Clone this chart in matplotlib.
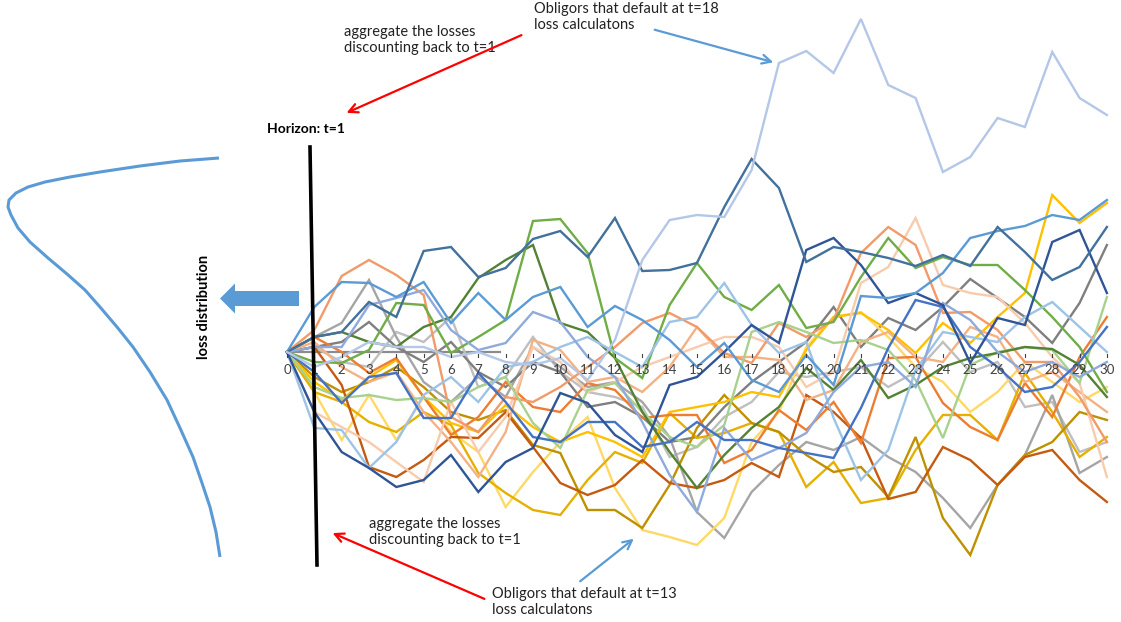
import numpy as np
import matplotlib.pyplot as plt
from matplotlib.patches import FancyArrow

plt.rcParams['font.family'] = ['Lato', 'DejaVu Sans']

# time steps 0..30
t = list(range(31))

# simulated credit paths
pale_blue = [0, -1.5, -0.5, 1, 0.5, 0.5, -0.5, 0, -1, -1.3, -0.6, -2.8, 1.2, 9.2, 13.2, 13.7, 13.5, 18.2,
             28.9, 30.1, 27.9, 33.3, 26.7, 25.4, 18.0, 19.5, 23.4, 22.5, 30.0, 25.4, 23.7]
steel_blue = [0, 1.5, 2.0, 5.0, 3.5, 10.1, 10.5, 7.5, 8.4, 11.3, 12.1, 9.5, 13.4, 8.1, 8.2, 8.9, 14.5, 19.3,
              16.4, 9.0, 10.5, 10.0, 9.4, 8.6, 9.7, 8.6, 12.5, 10.0, 7.2, 8.5, 12.5]
blue = [0, 4.5, 7.0, 6.9, 5.5, 7.0, 2.9, 5.9, 3.2, 5.5, 6.5, 2.5, 4.6, 3.2, 1.2, -1.5, 0.9, -2.8,
        -4.0, -0.3, -3.3, 5.6, 5.4, 5.9, 7.9, 11.4, 12.1, 12.6, 13.7, 13.2, 15.2]
orange_light = [0, 2.2, 7.6, 9.2, 7.7, 5.7, -6.5, -8.0, -4.5, -5.0, -3.5, -1.5, 0.5, 2.9, 3.9, 2.5, -0.1, -1.1,
                2.9, 1.5, 3.2, 9.9, 12.5, 10.7, 3.9, 4.0, 2.2, -1.0, -1.0, -4.5, -9.0]
pink = [0, -6.0, -7.5, -9.0, -11.0, -13.0, -5.0, -10.0, -6.5, 0.5, -1.0, -4.0, -3.0, -1.5, -0.5, 0.5, 1.5, 1.5,
        0.5, -3.5, -2.0, 6.9, 8.5, 13.4, 6.7, 5.9, 5.5, 2.9, -0.5, -3.1, -12.5]
green = [0, -1.0, -1.1, 0.2, 4.9, 4.7, -0.1, 1.5, 3.2, 13.1, 13.3, 9.9, -0.6, -2.6, 4.7, 8.9, 5.5, 4.2,
         6.7, 2.4, 3.0, 7.5, 11.4, 8.4, 9.5, 8.7, 8.7, 6.2, 3.5, 0.5, -4.0]
dark_green = [0, 1.5, 2.0, 1.0, 0.5, 2.5, 3.5, 7.4, 9.2, 10.7, 2.9, 2.0, -0.6, -6.0, -10.0, -13.6, -10.3, -7.6,
              -5.5, -1.6, -3.8, -0.8, -4.6, -3.3, -1.5, -0.6, -0.1, 0.5, 0.3, -1.3, -4.5]
light_green = [0, -3.5, -4.6, -4.3, -4.8, -4.6, -5.0, -3.5, -2.5, -7.1, -9.6, -3.8, -3.1, -6.0, -8.5, -9.5, -7.3, 2.0,
               3.0, 2.0, 0.9, 1.2, 0.2, -2.8, -8.6, -1.3, 0.0, 0.5, 0.2, -3.1, 5.5]
navy = [0, -6.0, -10.0, -11.6, -13.5, -12.8, -10.3, -14.0, -11.0, -9.6, -4.1, -5.1, -8.3, -10.0, -3.3, -2.5, 0.0, 2.7,
        0.9, 10.2, 11.4, 8.7, 4.9, 5.9, 4.7, -1.1, 3.4, 2.7, 11.0, 12.2, 5.9]
royal_blue = [0, -2.0, -5.1, -2.5, -2.1, -6.6, -6.6, -2.1, -5.0, -8.5, -9.0, -7.0, -7.0, -9.5, -9.0, -7.0, -8.8, -8.8,
              -9.6, -10.1, -10.6, -5.6, 0.4, 5.2, 4.5, 0.5, -1.5, -4.0, -3.5, -1.0, 2.5]
gray = [0, 1.5, 2.9, 7.2, 1.5, -3.0, -5.0, -2.5, -4.5, 0.5, -1.5, -3.5, -3.0, -5.0, -8.5, -16.0, -18.6, -14.0,
        -11.3, -9.0, -9.8, -8.5, -10.5, -12.0, -14.6, -17.6, -13.3, -10.3, -4.3, -12.1, -10.5]
dark_gray = [0, 0.5, 1.0, 3.0, 0.5, -1.0, 1.0, -2.0, -3.5, -1.0, -2.0, -5.5, -5.0, -6.5, -9.0, -8.5, -5.5, -3.0,
             -1.0, 1.0, 4.5, 0.5, 3.4, 2.2, 4.5, 7.3, 5.4, 3.5, 0.9, 4.9, 10.7]
gold_light = [0, -3.0, -4.8, -2.5, -0.8, -4.5, -7.1, -8.0, -5.3, -7.5, -9.0, -8.0, -9.0, -10.5, -6.0, -5.5, -5.0, -4.0,
              -4.5, 0.2, 3.5, 3.9, 2.2, -0.1, 2.9, 0.9, 3.5, 5.9, 15.7, 12.9, 14.9]
dark_gold = [0, -2.5, -4.0, -3.0, -1.5, -3.5, -6.0, -6.8, -5.8, -9.3, -10.1, -15.8, -15.8, -17.6, -13.3, -7.6, -4.3,
             -7.1, -8.0, -10.3, -12.0, -11.5, -14.5, -8.5, -16.6, -20.3, -13.3, -10.3, -9.0, -6.0, -6.8]
gold = [0, -4.0, -5.0, -7.0, -8.0, -6.0, -7.3, -12.1, -14.1, -15.8, -16.3, -12.8, -10.0, -11.1, -6.1, -8.6, -8.1, -7.1,
        -8.0, -13.5, -11.0, -15.1, -14.6, -9.8, -6.3, -6.3, -8.8, -2.1, -6.0, -10.5, -8.5]
pale_gold = [0, -4.0, -8.8, -4.3, -8.8, -4.5, -8.0, -10.0, -15.5, -12.0, -9.0, -6.5, -13.6, -17.8, -18.5, -19.3, -16.6,
             -9.0, -6.0, 0.5, 3.5, 4.0, 1.5, -1.5, -3.0, -6.0, -4.0, -1.0, -3.0, -5.0, -3.5]
brown = [0, 0.5, -3.3, -11.5, -12.5, -10.8, -8.5, -8.6, -6.0, -9.5, -13.1, -14.3, -13.3, -10.8, -13.1, -13.6, -12.8,
         -11.1, -12.5, -4.3, -6.0, -8.6, -14.7, -14.0, -9.5, -10.8, -13.3, -10.5, -9.8, -12.8, -15.0]
orange = [0, 1.5, 0.0, -2.1, -0.6, -4.5, -8.3, -6.5, -3.0, -5.5, -6.0, -3.1, -3.8, -6.6, -6.3, -6.3, -11.1, -9.8,
          -5.8, -7.8, -5.0, -9.1, -0.6, -0.5, -5.1, -7.5, -8.8, -3.1, -6.5, -0.5, 3.5]
periwinkle = [0, 0.5, 0.5, 4.7, 5.4, 6.2, 2.2, 0.2, 0.9, 4.0, 3.0, -0.5, -2.5, -7.0, -12.3, -16.0, -7.6, -10.8,
              -9.6, -8.1, -4.0, -1.5, -1.0, -3.5, 4.9, 3.2, 0.0, -2.0, -1.0, -2.5, -1.0]
sky = [0, -7.6, -7.8, -11.6, -9.0, -4.3, -2.5, -5.0, -1.5, -1.0, 0.5, 1.5, 0.0, -1.5, 3.0, 3.5, 6.9, 2.7,
       -0.1, 1.0, -6.6, -12.8, -9.8, -1.8, 2.0, 1.5, 1.0, 3.5, 5.0, 2.5, 0.0]
salmon = [0, 1.0, -1.5, -3.0, -2.0, -6.0, -9.0, -12.5, -8.0, 1.2, 0.2, -3.0, -2.5, -4.0, -1.5, 2.5, -0.5, -0.5,
          -0.8, -4.8, -3.8, 1.0, 2.0, -0.5, -1.0, 2.5, 1.5, -3.0, -2.0, -4.0, -6.0]
silver = [0, 0.5, -1.0, -1.5, 2.0, 1.0, 3.5, -3.5, -2.5, 1.5, -2.0, -4.0, -4.5, -5.5, -10.5, -9.5, -6.5, -5.0,
          -2.0, -2.5, -2.0, -1.5, -3.5, -2.0, 1.0, -2.0, -1.0, -5.5, -5.0, -10.0, -9.0]

paths = [silver, gray, dark_gray, pale_gold, gold, dark_gold, gold_light, brown, orange, salmon, pink,
         orange_light, light_green, dark_green, green, sky, periwinkle, royal_blue, navy, blue, steel_blue, pale_blue]
colors = ['#BFBFBF', '#A5A5A5', '#7F7F7F', '#FFD966', '#E6B000', '#BF9000', '#FFC000', '#C55A11', '#ED7D31',
          '#F4B183', '#F8CBAD', '#F19A6A', '#A9D18E', '#548235', '#70AD47', '#9DC3E6', '#8FAADC', '#4472C4',
          '#2F5597', '#5B9BD5', '#41719C', '#B4C7E7']

# loss distribution sketch (pixel positions)
curve_x = [219, 180, 140, 100, 70, 45, 28, 16, 9, 8, 11, 18, 30, 48, 67, 85, 100, 117, 133, 150, 167, 180, 193,
           202, 210, 216, 220]
curve_y = [158, 161, 166, 172, 177, 182, 187, 193, 200, 207, 215, 228, 242, 258, 274, 290, 307, 327, 347, 372,
           400, 428, 457, 483, 507, 532, 557]

W, H = 1121, 622
x0, sx = 287, 27.33   # pixel of t=0, pixels per step
y0, sy = 352, 10.0    # pixel of zero line, pixels per unit

fig = plt.figure(figsize=(W / 100, H / 100), dpi=100)
ax = fig.add_axes([0, 0, 1, 1])
ax.set_xlim(-x0 / sx, (W - x0) / sx)
ax.set_ylim(-(H - y0) / sy, y0 / sy)
ax.axis('off')

for p, c in zip(paths, colors):
    ax.plot(t, p, color=c, lw=1.7, solid_joinstyle='miter')

# axis line and tick labels
ax.plot([0, 7.8], [0, 0], color='#8C8C8C', lw=1.6, zorder=1)
for i in t:
    ax.plot([i, i], [-0.15, -0.45], color='#404040', lw=0.8)
    ax.text(i, -1.75, str(i), ha='center', va='center', fontsize=9.5, color='#404040')

# overlay in pixel coordinates for the annotations
ov = fig.add_axes([0, 0, 1, 1])
ov.set_xlim(0, W)
ov.set_ylim(H, 0)
ov.axis('off')
ov.patch.set_alpha(0)

ov.plot(curve_x, curve_y, color='#5B9BD5', lw=2.2, solid_capstyle='butt', solid_joinstyle='round')
ov.plot([310, 317], [147, 565], color='black', lw=2.6)
ov.add_patch(FancyArrow(299, 298.5, -64, 0, width=15, head_width=30, head_length=15,
                        length_includes_head=False, color='#5B9BD5', lw=0))

ov.text(267, 129, 'Horizon: t=1', fontsize=10, fontweight='bold', ha='left', va='center')
ov.text(204, 307, 'loss distribution', fontsize=10.5, fontweight='bold', rotation=90, ha='center', va='center')

txt = dict(fontsize=10.5, ha='left', va='center', linespacing=1.2, color='#222222')
ov.text(344, 40, 'aggregate the losses\ndiscounting back to t=1', **txt)
ov.text(534, 17, 'Obligors that default at t=18\nloss calculatons', **txt)
ov.text(369, 532, 'aggregate the losses\ndiscounting back to t=1', **txt)
ov.text(492, 602, 'Obligors that default at t=13\nloss calculatons', **txt)

arrow_red = dict(arrowstyle='->', color='#FF0000', lw=1.6, mutation_scale=16)
arrow_blue = dict(arrowstyle='->', color='#5B9BD5', lw=1.6, mutation_scale=16)
ov.annotate('', xy=(344, 114), xytext=(524, 34), arrowprops=arrow_red)
ov.annotate('', xy=(776, 63), xytext=(652, 29), arrowprops=arrow_blue)
ov.annotate('', xy=(330, 532), xytext=(487, 600), arrowprops=arrow_red)
ov.annotate('', xy=(636, 537), xytext=(578, 583), arrowprops=arrow_blue)

fig.savefig('out.png', dpi=100)
